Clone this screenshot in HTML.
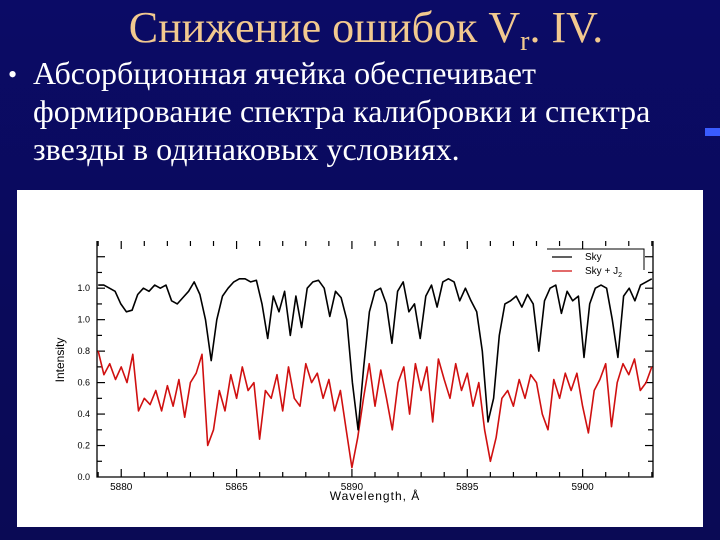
<!DOCTYPE html>
<html><head><meta charset="utf-8"><style>
html,body{margin:0;padding:0;width:720px;height:540px;overflow:hidden;background:#0a0a5e;}
#slide{position:relative;width:720px;height:540px;background:linear-gradient(180deg,#0b0b66 0%,#0a0a5a 60%,#0a0a55 100%);font-family:"Liberation Serif",serif;}
#title{position:absolute;left:0;width:732px;top:2px;text-align:center;color:#f2c98f;font-size:44px;}
#title sub{font-size:28px;vertical-align:-8px;}
.line{position:absolute;left:33px;color:#fff;font-size:32px;white-space:nowrap;}
#bullet{position:absolute;left:8px;top:60px;color:#fff;font-size:26px;}
#panel{position:absolute;left:17px;top:190px;width:686px;height:337px;background:#fff;}
svg{position:absolute;left:0;top:0;}
.deco{position:absolute;background:#3a5cff;}
</style></head><body>
<div id="slide">
<div id="title">Снижение ошибок V<sub>r</sub>. IV.</div>
<div id="bullet">•</div>
<div class="line" style="top:55px">Абсорбционная ячейка обеспечивает</div>
<div class="line" style="top:93px">формирование спектра калибровки и спектра</div>
<div class="line" style="top:131px">звезды в одинаковых условиях.</div>
<div class="deco" style="left:705px;top:128px;width:15px;height:8px"></div>
<div id="panel"></div>
<svg id="chart" width="720" height="540"></svg>
</div>
<script>
const xTickValues=[5880,5885,5890,5895,5900];
const xTickLabels=["5880","5865","5890","5895","5900"];
const yTickValues=[0,0.2,0.4,0.6,0.8,1.0,1.2];
const yTickLabels=["0.0","0.2","0.4","0.6","0.8","1.0","1.0"];
const wlStart=5879.0, wlEnd=5903.0;
const skyValues=[1.22,1.22,1.2,1.18,1.1,1.05,1.06,1.16,1.2,1.18,1.22,1.2,1.22,1.12,1.1,1.14,1.18,1.24,1.16,1.0,
0.74,1.0,1.15,1.2,1.24,1.26,1.26,1.24,1.25,1.1,0.88,1.15,1.05,1.18,0.9,1.15,0.95,1.2,1.24,1.25,
1.2,1.02,1.18,1.14,1.0,0.6,0.3,0.7,1.05,1.18,1.2,1.1,0.85,1.18,1.24,1.05,1.1,0.88,1.15,1.22,
1.08,1.24,1.26,1.24,1.12,1.2,1.12,1.05,0.8,0.35,0.5,0.9,1.1,1.12,1.15,1.08,1.16,1.1,0.8,1.12,
1.2,1.22,1.04,1.18,1.12,1.15,0.76,1.1,1.2,1.22,1.2,1.0,0.76,1.15,1.2,1.12,1.22,1.24,1.26];
const skyJ2Values=[0.8,0.65,0.72,0.62,0.7,0.6,0.78,0.42,0.5,0.46,
0.55,0.42,0.58,0.45,0.62,0.38,0.6,0.66,0.78,0.2,
0.3,0.55,0.42,0.65,0.5,0.7,0.55,0.6,0.24,0.55,
0.5,0.65,0.42,0.7,0.5,0.45,0.72,0.6,0.66,0.5,
0.62,0.42,0.55,0.3,0.06,0.25,0.5,0.72,0.45,0.68,
0.5,0.3,0.6,0.7,0.4,0.72,0.55,0.7,0.35,0.75,
0.62,0.5,0.72,0.55,0.66,0.45,0.6,0.3,0.1,0.25,
0.5,0.55,0.45,0.62,0.5,0.65,0.6,0.4,0.3,0.62,
0.5,0.66,0.55,0.66,0.45,0.28,0.55,0.62,0.72,0.32,
0.6,0.72,0.65,0.75,0.55,0.6,0.7];
</script>
<script>
const svg=document.getElementById('chart');
const NS='http://www.w3.org/2000/svg';
const L=97,R=653,T=241,B=477;
const x0=5878.95,x1=5903.05,yMax=1.5;
function xs(v){return L+(v-x0)/(x1-x0)*(R-L);}
function ys(v){return B-v/yMax*(B-T);}
function mk(tag,attrs){const e=document.createElementNS(NS,tag);for(const k in attrs)e.setAttribute(k,attrs[k]);svg.appendChild(e);return e;}
let a=mk('path',{d:`M${L},${T}V${B}H${R}V${T}`,fill:'none',stroke:'#000','stroke-width':1.3});


for(let w=5879;w<=5903;w++){
  const X=xs(w);const major=xTickValues.indexOf(w)>=0;const len=major?8:5;
  const t1=mk('line',{x1:X,x2:X,y1:B,y2:B-len,stroke:'#000','stroke-width':1.2});
  
  
  const t2=mk('line',{x1:X,x2:X,y1:T,y2:T+len,stroke:'#000','stroke-width':1.2});
  
  
}
xTickValues.forEach((v,i)=>{
  const t=mk('text',{x:xs(v),y:B+13,'text-anchor':'middle','font-family':'Liberation Sans, sans-serif','font-size':10,fill:'#000'});
  t.textContent=xTickLabels[i];
  
  
});
for(let k=1;k<15;k++){
  const v=k/10;const Y=ys(v);const len=k%2==0?8:5;
  const t1=mk('line',{x1:L,x2:L+len,y1:Y,y2:Y,stroke:'#000','stroke-width':1.2});
  
  
  const t2=mk('line',{x1:R,x2:R-len,y1:Y,y2:Y,stroke:'#000','stroke-width':1.2});
  
  
}
yTickValues.forEach((v,i)=>{
  const t=mk('text',{x:L-7,y:ys(v)+3,'text-anchor':'end','font-family':'Liberation Sans, sans-serif','font-size':9,fill:'#000'});
  t.textContent=yTickLabels[i];
  
  
});
let yl=mk('text',{x:0,y:0,transform:`translate(64,360) rotate(-90)`,'text-anchor':'middle','font-family':'Liberation Sans, sans-serif','font-size':12,fill:'#000'});
yl.textContent='Intensity';


let xl=mk('text',{x:375,y:500,'text-anchor':'middle','font-family':'Liberation Sans, sans-serif','font-size':12,fill:'#000','letter-spacing':'1'});
xl.textContent='Wavelength, Å';


function series(vals,color,name){
  const step=(wlEnd-wlStart)/(vals.length-1);
  let d='';vals.forEach((v,i)=>{d+=(i?'L':'M')+xs(wlStart+i*step).toFixed(1)+','+ys(v).toFixed(1);});
  const p=mk('path',{d:d,fill:'none',stroke:color,'stroke-width':1.6,'stroke-linejoin':'round'});
  
  
}
series(skyJ2Values,'#d01010','series-sky-j2');
series(skyValues,'#000','series-sky');
let lb=mk('path',{d:'M547,249H644V270',fill:'none',stroke:'#000','stroke-width':1});


let l1=mk('line',{x1:552,x2:572,y1:257,y2:257,stroke:'#000','stroke-width':1.2});


let l2=mk('line',{x1:552,x2:572,y1:271,y2:271,stroke:'#d01010','stroke-width':1.2});


let lt1=mk('text',{x:585,y:260,'font-family':'Liberation Sans, sans-serif','font-size':10,fill:'#000'});
lt1.textContent='Sky';


let lt2=mk('text',{x:585,y:274,'font-family':'Liberation Sans, sans-serif','font-size':10,fill:'#000'});
lt2.innerHTML='Sky + J<tspan font-size="7" dy="3">2</tspan>';


</script>
</body></html>
